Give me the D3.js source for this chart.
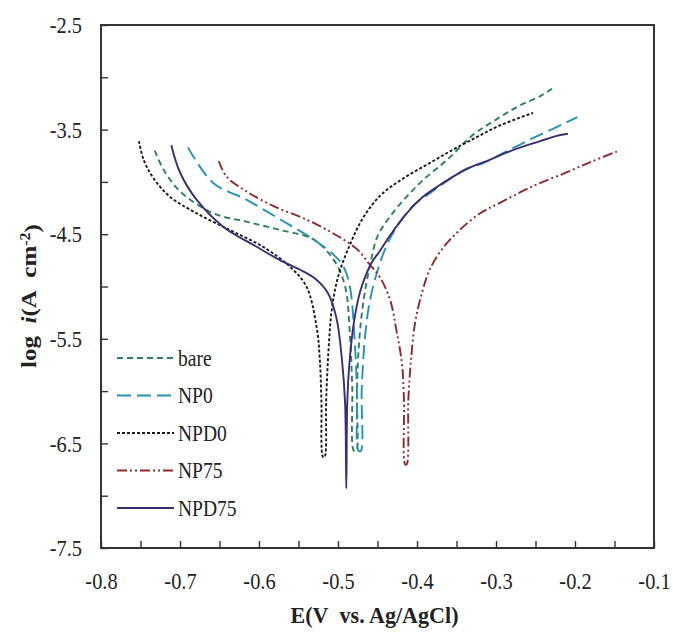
<!DOCTYPE html>
<meta charset="utf-8">

<style>
body { margin: 0; background: #fff; }
.axis text { font-family: "Liberation Serif", "Times New Roman", serif; font-size: 24px; fill: #222; }
.axis line { stroke: #333; }
.title text { font-family: "Liberation Serif", "Times New Roman", serif; font-weight: bold; fill: #222; }
.legend text { font-family: "Liberation Serif", "Times New Roman", serif; font-size: 23px; fill: #222; }
</style>

<svg class="chart"></svg>

<script src="https://d3js.org/d3.v7.min.js"></script>
<script>

  // [E (V vs Ag/AgCl), log i]
  var bare = [
    [-0.732, -3.70], [-0.721, -3.88], [-0.700, -4.09], [-0.658, -4.30], [-0.616, -4.38],
    [-0.573, -4.46], [-0.531, -4.55], [-0.505, -4.75], [-0.491, -5.00], [-0.485, -5.45],
    [-0.482, -5.95], [-0.480, -6.57],
    [-0.477, -6.57], [-0.476, -6.00], [-0.473, -5.50], [-0.467, -5.10], [-0.459, -4.78],
    [-0.450, -4.52], [-0.434, -4.33], [-0.413, -4.14], [-0.392, -3.98], [-0.362, -3.79],
    [-0.329, -3.55], [-0.299, -3.40], [-0.270, -3.27], [-0.244, -3.18], [-0.229, -3.11]
  ];

  var np0 = [
    [-0.690, -3.67], [-0.658, -4.01], [-0.616, -4.17], [-0.573, -4.36], [-0.531, -4.55],
    [-0.505, -4.70], [-0.493, -4.81], [-0.485, -5.00], [-0.479, -5.50], [-0.476, -6.00],
    [-0.474, -6.57],
    [-0.471, -6.57], [-0.470, -6.00], [-0.466, -5.50], [-0.460, -5.15], [-0.450, -4.85],
    [-0.438, -4.60], [-0.423, -4.40], [-0.404, -4.22], [-0.384, -4.11], [-0.362, -3.99],
    [-0.339, -3.88], [-0.316, -3.82], [-0.295, -3.74], [-0.274, -3.66], [-0.253, -3.58],
    [-0.230, -3.50], [-0.197, -3.38]
  ];

  var npd0 = [
    [-0.752, -3.61], [-0.746, -3.79], [-0.734, -3.96], [-0.713, -4.14], [-0.679, -4.30],
    [-0.637, -4.46], [-0.595, -4.62], [-0.561, -4.81], [-0.540, -5.00], [-0.527, -5.39],
    [-0.523, -5.70], [-0.521, -6.09], [-0.519, -6.63],
    [-0.517, -6.63], [-0.515, -6.09], [-0.512, -5.61], [-0.508, -5.23], [-0.500, -4.91],
    [-0.486, -4.62], [-0.468, -4.34], [-0.445, -4.12], [-0.416, -3.96], [-0.384, -3.82],
    [-0.354, -3.69], [-0.324, -3.57], [-0.295, -3.46], [-0.253, -3.34]
  ];

  var np75 = [
    [-0.651, -3.80], [-0.641, -3.95], [-0.616, -4.09], [-0.582, -4.23], [-0.540, -4.36],
    [-0.502, -4.51], [-0.475, -4.65], [-0.461, -4.78], [-0.447, -4.91], [-0.434, -5.13],
    [-0.426, -5.42], [-0.419, -5.74], [-0.4165, -6.09], [-0.415, -6.70],
    [-0.413, -6.70], [-0.411, -6.09], [-0.408, -5.74], [-0.4025, -5.35], [-0.394, -5.07],
    [-0.384, -4.84], [-0.367, -4.63], [-0.346, -4.46], [-0.320, -4.30], [-0.295, -4.20],
    [-0.253, -4.04], [-0.211, -3.91], [-0.177, -3.80], [-0.147, -3.71]
  ];

  var npd75 = [
    [-0.711, -3.65], [-0.700, -3.91], [-0.679, -4.17], [-0.645, -4.43], [-0.603, -4.62],
    [-0.573, -4.75], [-0.548, -4.84], [-0.528, -4.93], [-0.513, -5.06], [-0.502, -5.30],
    [-0.495, -5.70], [-0.491, -6.12], [-0.4895, -6.93],
    [-0.4883, -6.12], [-0.4856, -5.74], [-0.480, -5.35], [-0.472, -5.05], [-0.458, -4.78],
    [-0.447, -4.66], [-0.434, -4.51], [-0.413, -4.30], [-0.392, -4.14], [-0.371, -4.03],
    [-0.350, -3.93], [-0.329, -3.85], [-0.308, -3.79], [-0.287, -3.72], [-0.265, -3.66],
    [-0.244, -3.61], [-0.223, -3.56], [-0.209, -3.54]
  ];

  var seriesNames  = ["bare", "NP0", "NPD0", "NP75", "NPD75"];
  var seriesData   = [bare, np0, npd0, np75, npd75];
  var seriesColors = ["#2f7f5c", "#2a90b0", "#1a1a1a", "#8a2a2e", "#3b2d70"];
  var seriesDashes = ["6,4", "14,6", "3,2", "10,3,2,3,2,3", null];

  var xTicks  = d3.range(-0.8, -0.0999, 0.05).map(function(d) { return +d.toFixed(2); });
  var yTicks  = d3.range(-7.5, -2.4999, 0.5).map(function(d) { return +d.toFixed(1); });
  var xLabels = [-0.8, -0.7, -0.6, -0.5, -0.4, -0.3, -0.2, -0.1];
  var yLabels = [-7.5, -6.5, -5.5, -4.5, -3.5, -2.5];

  var outerWidth  = 673;
  var outerHeight = 633;

  var margin = { top: 25, right: 19, bottom: 85, left: 101 };
  var width  = outerWidth - margin.left - margin.right;
  var height = outerHeight - margin.top - margin.bottom;

  var squeeze = 0.85;

  var xScale = d3.scaleLinear().domain([-0.8, -0.1]).range([0, width]);
  var yScale = d3.scaleLinear().domain([-7.5, -2.5]).range([height, 0]);

  var svg = d3.select(".chart")
      .attr("width", outerWidth)
      .attr("height", outerHeight);

  var chart = svg.append("g")
      .attr("transform", "translate(" + margin.left + "," + margin.top + ")");

  function isLabel(list, d) {
    return list.some(function(v) { return Math.abs(v - d) < 1e-6; });
  }

  var xAxis = chart.append("g")
      .attr("class", "x axis")
      .attr("transform", "translate(0," + height + ")")
      .call(d3.axisBottom(xScale)
        .tickValues(xTicks)
        .tickSizeInner(-7)
        .tickSizeOuter(0)
        .tickPadding(24)
        .tickFormat(function(d) { return isLabel(xLabels, d) ? d.toFixed(1) : ""; }));

  var yAxis = chart.append("g")
      .attr("class", "y axis")
      .call(d3.axisLeft(yScale)
        .tickValues(yTicks)
        .tickSizeInner(-7)
        .tickSizeOuter(0)
        .tickFormat(function(d) { return isLabel(yLabels, d) ? d.toFixed(1) : ""; }));

  chart.selectAll(".axis .domain").remove();
  chart.selectAll(".axis line").attr("stroke-width", 1.4);
  chart.selectAll(".axis text").attr("font-family", null).attr("font-size", null);

  xAxis.selectAll("text")
      .attr("transform", "scale(" + squeeze + ",1)");

  yAxis.selectAll("text")
      .attr("x", -19 / squeeze)
      .attr("transform", "scale(" + squeeze + ",1)");

  chart.append("rect")
      .attr("x", 0)
      .attr("y", 0)
      .attr("width", width)
      .attr("height", height)
      .attr("fill", "none")
      .attr("stroke", "#333")
      .attr("stroke-width", 2);

  var line = d3.line()
      .x(function(d) { return xScale(d[0]); })
      .y(function(d) { return yScale(d[1]); })
      .curve(d3.curveCatmullRom.alpha(0.5));

  chart.append("g")
      .attr("class", "curves")
    .selectAll("path")
      .data(seriesData)
    .enter().append("path")
      .attr("d", line)
      .attr("fill", "none")
      .attr("stroke", function(d, i) { return seriesColors[i]; })
      .attr("stroke-width", 1.9)
      .attr("stroke-dasharray", function(d, i) { return seriesDashes[i]; });

  var legend = chart.append("g")
      .attr("class", "legend")
      .attr("transform", "translate(16,333)");

  var rows = legend.selectAll("g")
      .data(seriesNames)
    .enter().append("g")
      .attr("transform", function(d, i) { return "translate(0," + (i * 37.5) + ")"; });

  rows.append("line")
      .attr("x1", 0)
      .attr("x2", 57)
      .attr("stroke", function(d, i) { return seriesColors[i]; })
      .attr("stroke-width", 1.9)
      .attr("stroke-dasharray", function(d, i) { return seriesDashes[i]; });

  rows.append("text")
      .attr("x", 61 / squeeze)
      .attr("dy", "0.33em")
      .attr("transform", "scale(" + squeeze + ",1)")
      .text(function(d) { return d; });

  var titles = svg.append("g").attr("class", "title");

  titles.append("text")
      .attr("transform", "translate(" + (margin.left + width / 2 - 3) + ",623) scale(0.92,1)")
      .attr("text-anchor", "middle")
      .style("font-size", "24px")
      .text("E(V\u00a0\u00a0vs. Ag/AgCl)");

  var yTitle = titles.append("text")
      .attr("transform", "translate(36,296) rotate(-90) scale(1," + squeeze + ")")
      .attr("text-anchor", "middle")
      .style("font-size", "25px");

  yTitle.append("tspan").text("log\u00a0\u00a0");
  yTitle.append("tspan").style("font-style", "italic").text("i");
  yTitle.append("tspan").text("(A\u00a0\u00a0cm");
  yTitle.append("tspan").attr("dy", "-0.45em").style("font-size", "16px").text("-2");
  yTitle.append("tspan").attr("dy", "0.45em").text(")");

</script>
